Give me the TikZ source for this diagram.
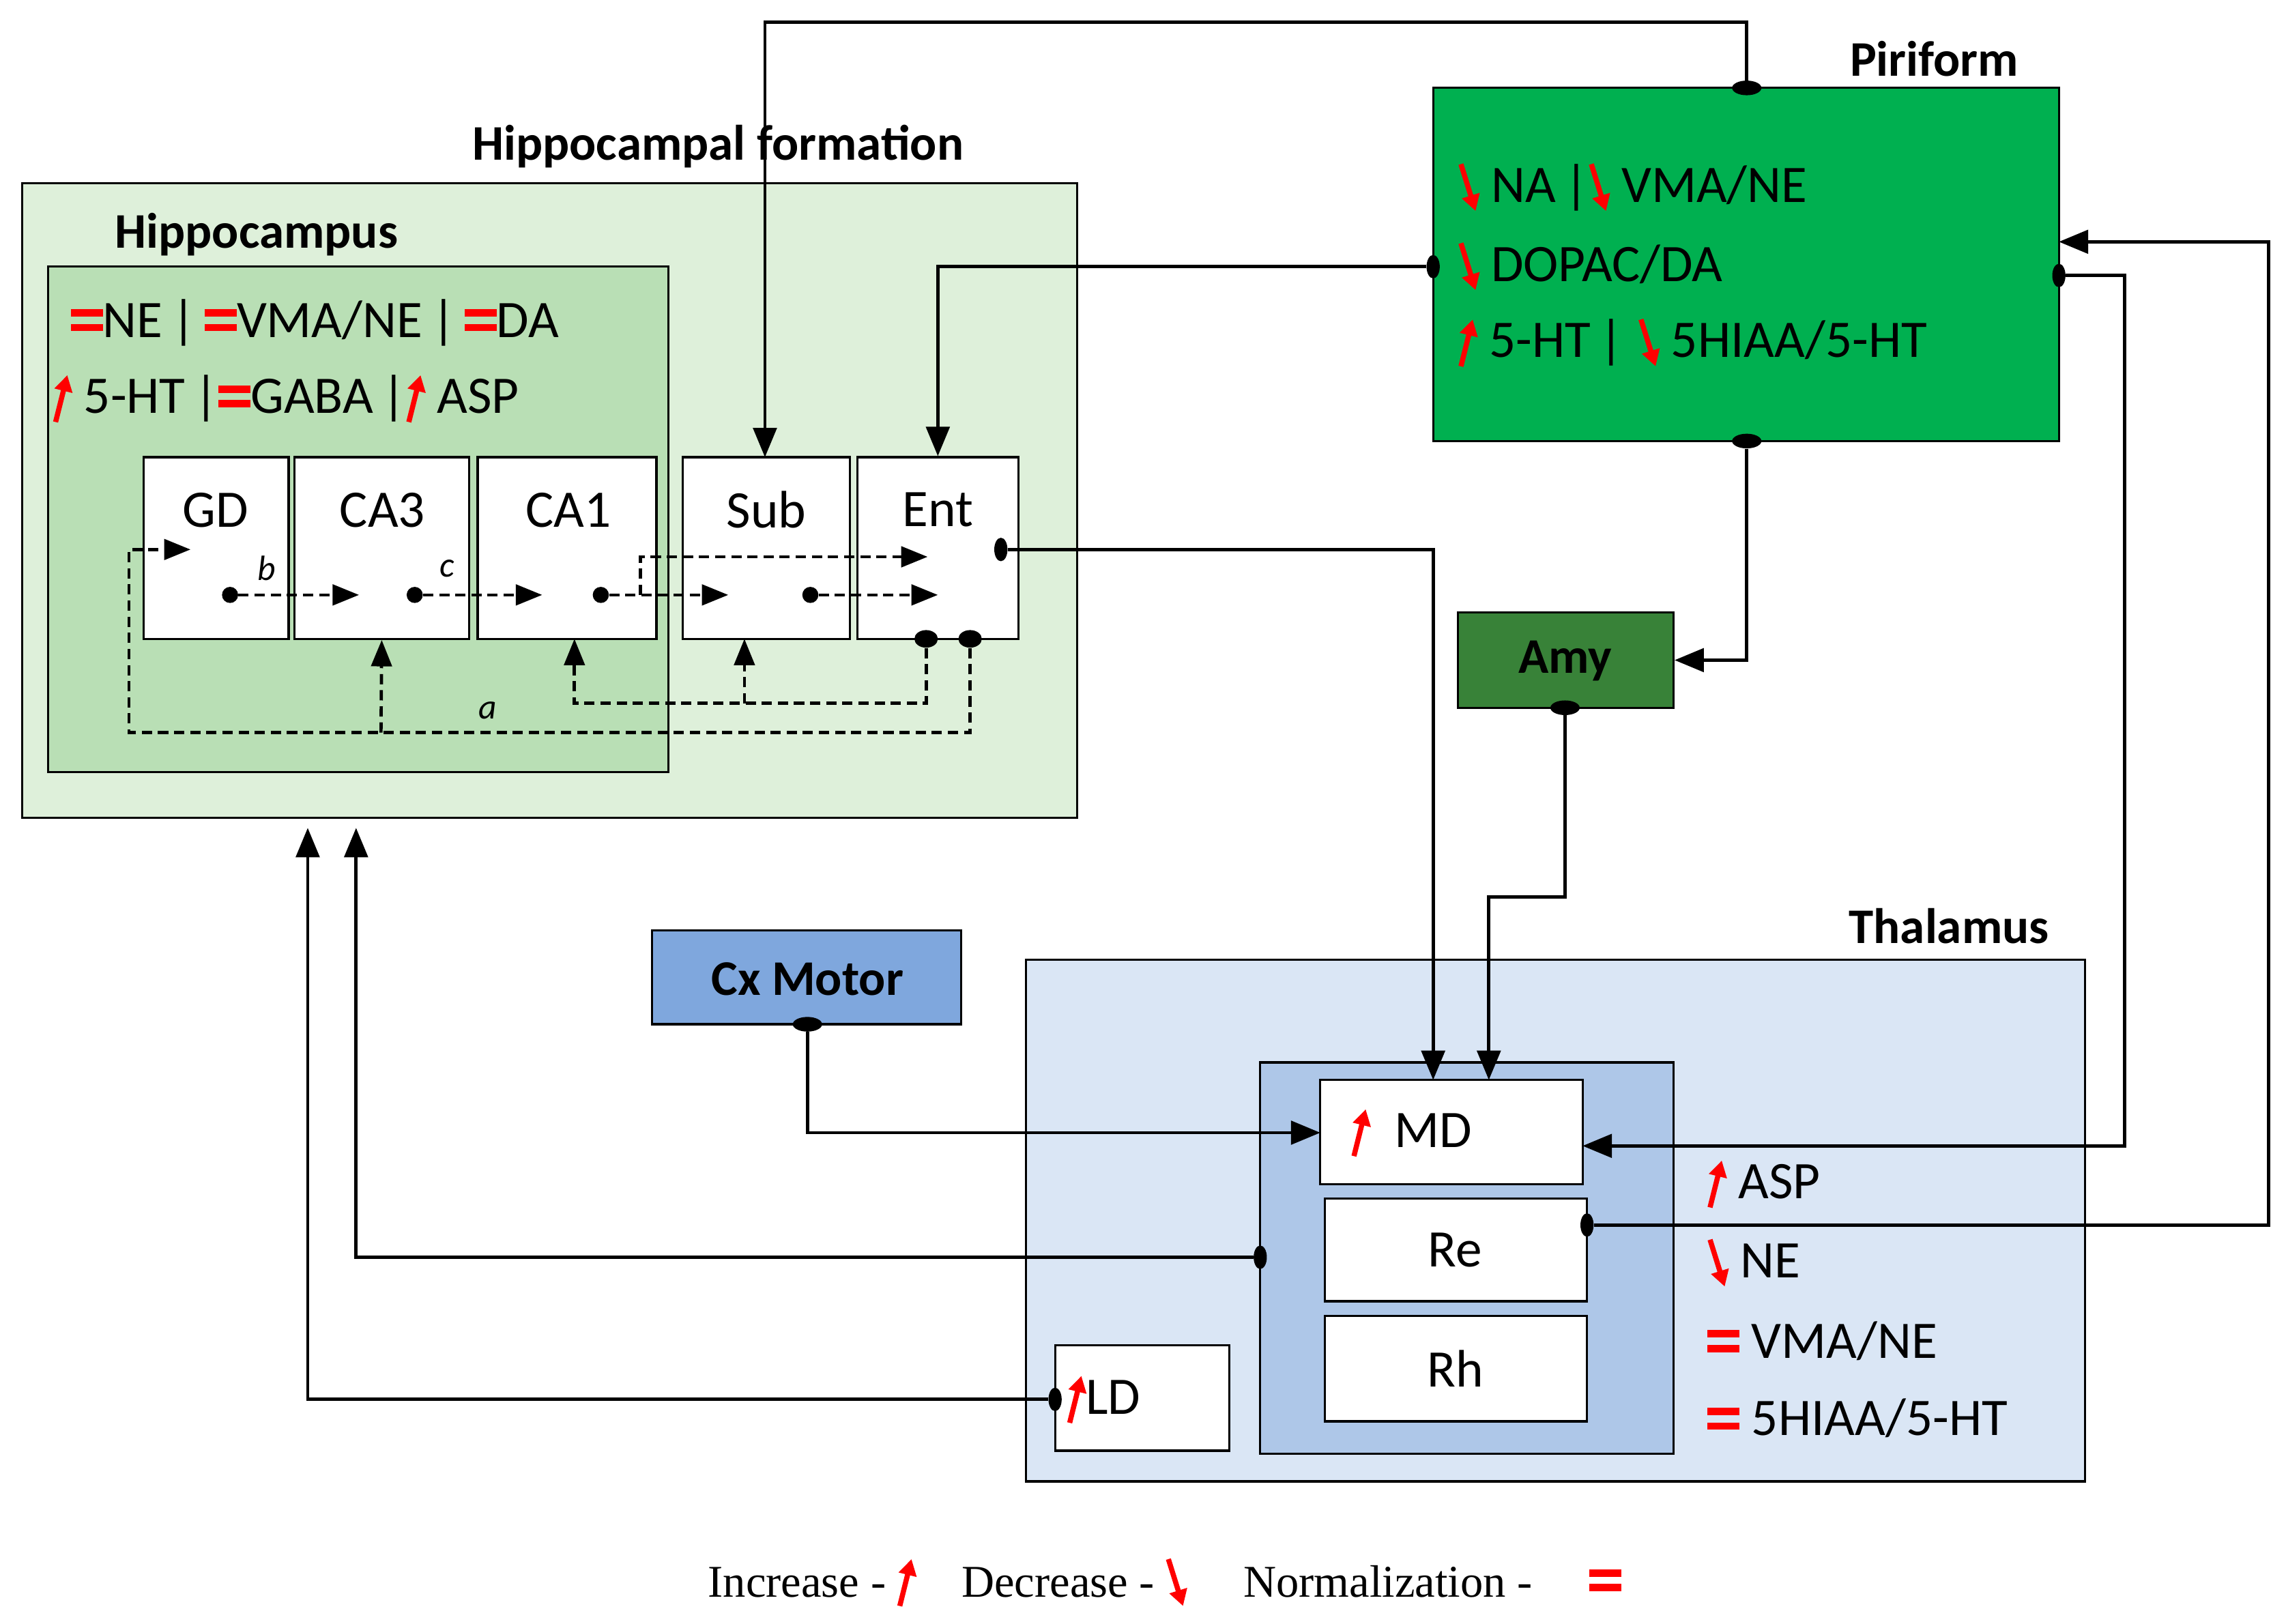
\documentclass[tikz,border=0pt]{standalone}
\usepackage{fontspec}
\setmainfont{Carlito}
\newfontfamily\serif{Liberation Serif}
\usetikzlibrary{fit,arrows.meta,calc,shapes.geometric}
\definecolor{hfo}{RGB}{222,240,218}
\definecolor{hin}{RGB}{185,223,181}
\definecolor{pir}{RGB}{0,176,80}
\definecolor{amy}{RGB}{56,130,56}
\definecolor{cxm}{RGB}{127,167,221}
\definecolor{tho}{RGB}{218,230,245}
\definecolor{thi}{RGB}{174,199,232}
\newcommand\myup{\tikz[baseline=0pt]\draw[red,line width=3.5pt,-{Triangle[length=11pt,width=12pt]}] (0pt,-6pt) -- (8pt,26pt);}
\newcommand\mydn{\tikz[baseline=0pt]\draw[red,line width=3.5pt,-{Triangle[length=11pt,width=12pt]}] (0pt,26pt) -- (10pt,-6pt);}
\newcommand\myeq{\tikz[baseline=0pt]{\fill[red] (0pt,4pt) rectangle (22pt,9pt);\fill[red] (0pt,14pt) rectangle (22pt,19pt);}}
\begin{document}
\begin{tikzpicture}[x=1pt,y=-1pt,
  area/.style={draw,line width=1.5pt,inner sep=0pt},
  box/.style={draw,line width=1.5pt,fill=white,inner sep=0pt},
  ttl/.style={font=\fontsize{34}{40}\selectfont\bfseries,inner sep=0pt},
  txt/.style={font=\fontsize{36}{42}\selectfont,inner sep=0pt,anchor=west},
  lbl/.style={font=\fontsize{36}{42}\selectfont,inner sep=0pt},
  con/.style={line width=2.2pt,-{Triangle[length=20pt,width=16pt]}},
  dsh/.style={line width=2.2pt,dash pattern=on 7pt off 4pt,-{Triangle[length=18pt,width=14pt]}},
  dot/.style={fill=black,ellipse,inner sep=0pt,minimum width=9pt,minimum height=16pt},
  hdot/.style={fill=black,ellipse,inner sep=0pt,minimum width=20pt,minimum height=10pt}]
\useasboundingbox (0,0) rectangle (1560,1108);
\fill[white] (0,0) rectangle (1560,1108);
% areas
\node[area,fill=hfo,fit={(15,125)(735,558)}] (hf) {};
\node[ttl] (hft) at (490,100) {Hippocampal formation};
\node[area,fill=hin,fit={(33,182)(456,527)}] (hc) {};
\node[ttl] (hct) at (175,160) {Hippocampus};
\node[txt] (h1) at (48,220) {\myeq NE\,|\,\myeq VMA/NE\,|\,\myeq DA};
\node[txt] (h2) at (36,272) {\myup\ 5-HT\,|\myeq GABA\,|\myup\ ASP};
\node[box,fit={(98,312)(197,436)}] (gd) {};
\node[box,fit={(201,312)(320,436)}] (ca3) {};
\node[box,fit={(326,312)(448,436)}] (ca1) {};
\node[box,fit={(466,312)(580,436)}] (sub) {};
\node[box,fit={(585,312)(695,436)}] (ent) {};
\node[lbl] at (147,348) {GD};
\node[lbl] at (261,348) {CA3};
\node[lbl] at (388,348) {CA1};
\node[lbl] at (523,348) {Sub};
\node[lbl] at (640,348) {Ent};
\node[area,fill=pir,fit={(978,60)(1405,301)}] (pir) {};
\node[ttl] (pirt) at (1320,40) {Piriform};
\node[txt] at (995,128) {\mydn\ NA\,|\mydn\ VMA/NE};
\node[txt] at (995,182) {\mydn\ DOPAC/DA};
\node[txt] at (995,234) {\myup\ 5-HT\,|\;\mydn\ 5HIAA/5-HT};
\node[area,fill=amy,fit={(995,418)(1142,483)}] (amy) {};
\node[ttl] at (1068,451) {Amy};
\node[area,fill=cxm,fit={(445,635)(656,699)}] (cx) {};
\node[ttl] at (551,668) {Cx Motor};
\node[area,fill=tho,fit={(700,655)(1423,1011)}] (th) {};
\node[ttl] (tht) at (1330,632) {Thalamus};
\node[area,fill=thi,fit={(860,725)(1142,992)}] (thi) {};
\node[box,fit={(901,737)(1080,808)}] (md) {};
\node[box,fit={(904,818)(1083,888)}] (re) {};
\node[box,fit={(904,898)(1083,970)}] (rh) {};
\node[box,fit={(720,918)(839,990)}] (ld) {};
\node[txt] at (922,773) {\myup\ \ MD};
\node[lbl] at (993,853) {Re};
\node[lbl] at (993,934) {Rh};
\node[txt] at (728,955) {\myup LD};
\node[txt] at (1165,808) {\myup\ ASP};
\node[txt] at (1165,862) {\mydn\ NE};
\node[txt] at (1165,915) {\myeq\ VMA/NE};
\node[txt] at (1165,968) {\myeq\ 5HIAA/5-HT};
% legend
\node[font=\serif\fontsize{31}{36}\selectfont,inner sep=0pt,anchor=west] (leg) at (483,1080) {Increase -\ \myup\quad Decrease -\ \mydn\quad\ Normalization -\quad\ \myeq};
% solid connectors
\node[hdot] (d1) at (1192,60) {};
\coordinate (c1) at (522,312);
\draw[con] (d1) -- (1192,15) -| (c1);
\node[dot] (d2) at (978,182) {};
\draw[con] (d2) -| (ent.north);
\node[hdot] (d3) at (1192,301) {};
\draw[con] (d3) |- (amy.east);
\node[dot] (d4) at (683,375) {};
\coordinate (m1) at (978,737);
\draw[con] (d4) -| (m1);
\node[hdot] (d5) at (1068,483) {};
\coordinate (m2) at (1016,737);
\draw[con] (d5) -- (1068,612) -| (m2);
\node[hdot] (d6) at (551,699) {};
\coordinate (m3) at (901,773);
\draw[con] (d6) |- (m3);
\node[dot] (d7) at (1405,188) {};
\coordinate (m4) at (1080,782);
\draw[con] (d7) -- (1450,188) |- (m4);
\node[dot] (d8) at (1083,836) {};
\coordinate (p1) at (1405,165);
\draw[con] (d8) -- (1548,836) |- (p1);
\node[dot] (d9) at (860,858) {};
\coordinate (h9) at (243,565);
\draw[con] (d9) -| (h9);
\node[dot] (d10) at (720,955) {};
\coordinate (h10) at (210,565);
\draw[con] (d10) -| (h10);
% dashed internal
\node[hdot,minimum width=16pt,minimum height=12pt] (e1) at (632,436) {};
\node[hdot,minimum width=16pt,minimum height=12pt] (e2) at (662,436) {};
\coordinate (g1) at (130,375);
\draw[dsh] (e2) -- (662,500) -- (88,500) |- (g1);
\draw[dsh] (260,500) -- (ca3.south);
\draw[dsh] (e1) -- (632,480) -| (392,436);
\draw[dsh] (508,480) -- (508,436);
\node[font=\fontsize{24}{28}\selectfont\itshape,inner sep=0pt] at (333,485) {a};
\node[dot,minimum width=11pt,minimum height=11pt] (b1) at (157,406) {};
\draw[dsh] (b1) -- (245,406);
\node[font=\fontsize{24}{28}\selectfont\itshape,inner sep=0pt] at (182,388) {b};
\node[dot,minimum width=11pt,minimum height=11pt] (b2) at (283,406) {};
\draw[dsh] (b2) -- (370,406);
\node[font=\fontsize{24}{28}\selectfont\itshape,inner sep=0pt] at (305,388) {c};
\node[dot,minimum width=11pt,minimum height=11pt] (b3) at (410,406) {};
\draw[dsh] (b3) -- (497,406);
\draw[dsh] (437,406) |- (633,380);
\node[dot,minimum width=11pt,minimum height=11pt] (b4) at (553,406) {};
\draw[dsh] (b4) -- (640,406);
\end{tikzpicture}
\end{document}
